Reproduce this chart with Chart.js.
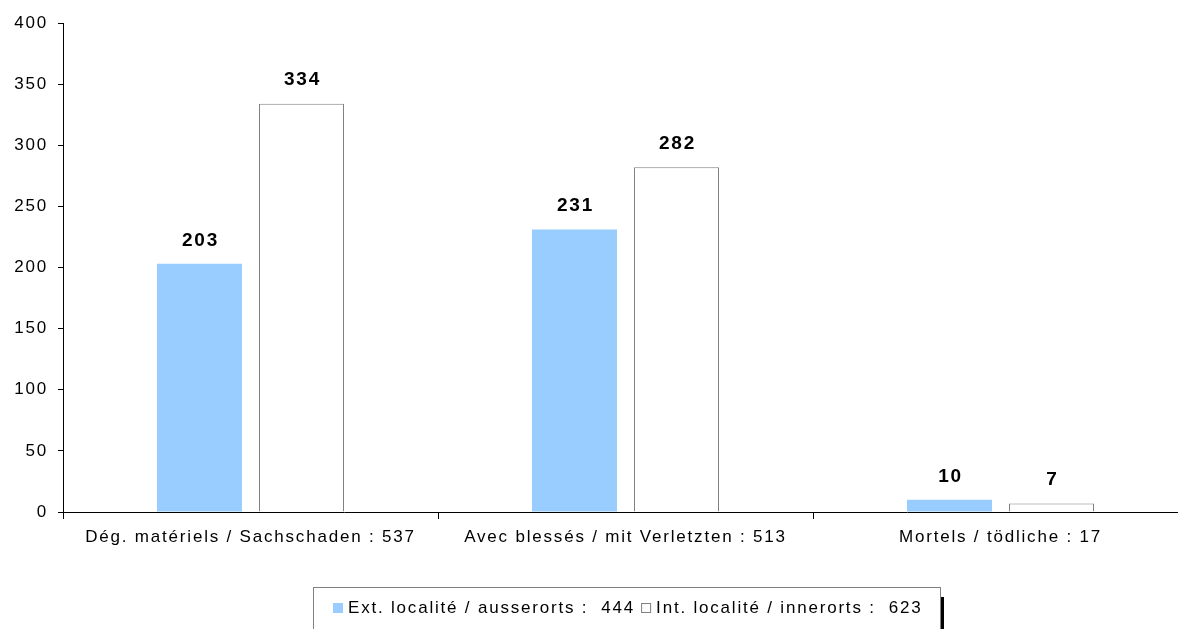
<!DOCTYPE html>
<html>
<head>
<meta charset="utf-8">
<script src="https://cdn.jsdelivr.net/npm/chart.js@4"></script>
<style>
  html, body { margin: 0; padding: 0; background: #fff; overflow: hidden; }
  #wrap { position: absolute; left: 0; top: 0; width: 1188px; height: 629px; }
</style>
</head>
<body>
<div id="wrap"><canvas id="chart" width="1188" height="629"></canvas></div>
<script>
// Données
const categories = [
  "Dég. matériels / Sachschaden : 537",
  "Avec blessés / mit Verletzten : 513",
  "Mortels / tödliche : 17"
];
const seriesNames = ["Ext. localité / ausserorts :  444", "Int. localité / innerorts :  623"];
const ausserorts = [203, 231, 10];
const innerorts = [334, 282, 7];
const yTicks = [0, 50, 100, 150, 200, 250, 300, 350, 400];

const FONT = "'Liberation Sans', Arial, sans-serif";
const SPACING = "1.8px"; // le texte de l'original est un peu étiré

// Espacement des lettres sur tout le canvas
const wideText = {
  id: "wideText",
  beforeUpdate(chart) { chart.ctx.letterSpacing = SPACING; },
  beforeDraw(chart) { chart.ctx.letterSpacing = SPACING; }
};

// Étiquettes de valeurs au-dessus des barres
const valueLabels = {
  id: "valueLabels",
  afterDatasetsDraw(chart) {
    const ctx = chart.ctx;
    ctx.save();
    ctx.font = "bold 19px " + FONT;
    ctx.fillStyle = "#000";
    ctx.textAlign = "center";
    ctx.textBaseline = "bottom";
    chart.data.datasets.forEach((ds, i) => {
      chart.getDatasetMeta(i).data.forEach((bar, j) => {
        ctx.fillText(ds.data[j], bar.x + 1, bar.y - 14);
      });
    });
    ctx.restore();
  }
};

// Légende dessinée à la main (cadre + ombre noire à droite)
const boxLegend = {
  id: "boxLegend",
  afterDraw(chart) {
    const ctx = chart.ctx;
    const left = 313, top = 587, right = 940, bottom = 640;
    ctx.save();
    ctx.fillStyle = "#000";
    ctx.fillRect(right, top + 10, 4, bottom - top);
    ctx.fillStyle = "#fff";
    ctx.fillRect(left, top, right - left, bottom - top);
    ctx.strokeStyle = "#808080";
    ctx.lineWidth = 1;
    ctx.strokeRect(left + 0.5, top + 0.5, right - left, bottom - top);
    ctx.font = "17px " + FONT;
    ctx.textBaseline = "middle";
    let x = 333;
    const y = 608;
    chart.data.datasets.forEach((ds, i) => {
      ctx.fillStyle = ds.backgroundColor;
      ctx.fillRect(x, y - 5, 10, 10);
      if (ds.borderWidth) {
        ctx.strokeStyle = ds.borderColor;
        ctx.strokeRect(x + 0.5, y - 4.5, 9, 9);
      }
      ctx.fillStyle = "#000";
      ctx.fillText(ds.label, x + 15, y);
      x += 15 + ctx.measureText(ds.label).width + 6;
    });
    ctx.restore();
  }
};

new Chart(document.getElementById("chart"), {
  type: "bar",
  data: {
    labels: categories,
    datasets: [
      {
        label: seriesNames[0],
        data: ausserorts,
        backgroundColor: "#99CCFF",
        borderWidth: 0
      },
      {
        label: seriesNames[1],
        data: innerorts,
        backgroundColor: "#FFFFFF",
        borderColor: "#7f7f7f",
        borderWidth: 1
      }
    ]
  },
  options: {
    responsive: false,
    animation: false,
    categoryPercentage: 0.544,
    barPercentage: 0.833,
    layout: { padding: { top: 23, left: 0, right: 0, bottom: 0 } },
    plugins: {
      legend: { display: false },
      tooltip: { enabled: false }
    },
    scales: {
      x: {
        grid: { drawOnChartArea: false, drawTicks: true, tickLength: 7, color: "#000", offset: true },
        border: { color: "#000", width: 1 },
        ticks: { color: "#000", font: { family: FONT, size: 17 }, padding: 8, maxRotation: 0 },
        afterFit(scale) { scale.height = 117; }
      },
      y: {
        min: 0,
        max: 400,
        afterBuildTicks(scale) { scale.ticks = yTicks.map(v => ({ value: v })); },
        grid: { drawOnChartArea: false, drawTicks: true, tickLength: 5, color: "#000" },
        border: { color: "#000", width: 1 },
        ticks: { color: "#000", font: { family: FONT, size: 17 }, padding: 10 },
        afterFit(scale) { scale.width = 63; }
      }
    }
  },
  plugins: [wideText, valueLabels, boxLegend]
});
</script>
</body>
</html>
